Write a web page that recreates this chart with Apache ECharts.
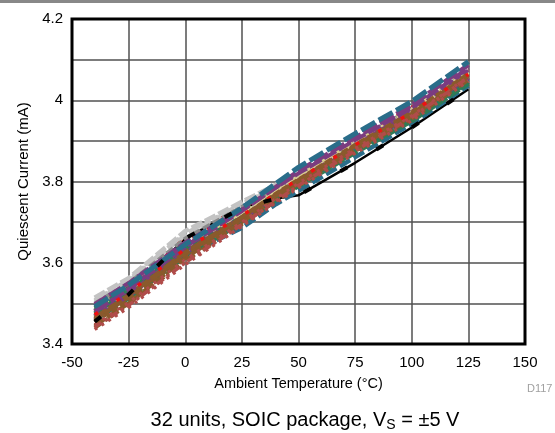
<!DOCTYPE html>
<html><head><meta charset="utf-8">
<script src="https://cdn.jsdelivr.net/npm/echarts@6/dist/echarts.min.js"></script>
<style>html,body{margin:0;padding:0;background:#fff}#c{width:555px;height:433px}</style>
</head><body><div id="c"></div>
<script>
const temps = [-40, -25, 0, 25, 40, 50, 75, 100, 125];
const xTicks = [-50, -25, 0, 25, 50, 75, 100, 125, 150];
const yTicks = [3.4, 3.6, 3.8, 4.0, 4.2];

const u01 = [3.455, 3.522, 3.660, 3.735, 3.758, 3.766, 3.846, 3.933, 4.027];
const u02 = [3.492, 3.545, 3.645, 3.735, 3.795, 3.835, 3.918, 3.997, 4.095];
const u03 = [3.468, 3.522, 3.618, 3.686, 3.744, 3.777, 3.860, 3.942, 4.036];
const u04 = [3.480, 3.535, 3.640, 3.728, 3.786, 3.826, 3.908, 3.988, 4.087];
const u05 = [3.462, 3.518, 3.625, 3.707, 3.765, 3.800, 3.884, 3.962, 4.055];
const u06 = [3.445, 3.500, 3.612, 3.700, 3.760, 3.795, 3.880, 3.960, 4.058];
const u07 = [3.455, 3.508, 3.620, 3.712, 3.770, 3.805, 3.890, 3.970, 4.065];
const u08 = [3.440, 3.498, 3.605, 3.695, 3.752, 3.790, 3.875, 3.955, 4.050];
const u09 = [3.475, 3.530, 3.628, 3.705, 3.758, 3.792, 3.872, 3.950, 4.042];
const u10 = [3.488, 3.538, 3.635, 3.712, 3.765, 3.798, 3.878, 3.955, 4.046];
const u11 = [3.514, 3.562, 3.678, 3.750, 3.792, 3.820, 3.895, 3.968, 4.060];
const u12 = [3.505, 3.555, 3.668, 3.742, 3.785, 3.814, 3.890, 3.962, 4.052];
const u13 = [3.470, 3.525, 3.630, 3.718, 3.772, 3.808, 3.895, 3.975, 4.070];
const u14 = [3.478, 3.530, 3.637, 3.722, 3.777, 3.812, 3.898, 3.978, 4.062];
const u15 = [3.436, 3.490, 3.596, 3.690, 3.748, 3.785, 3.870, 3.950, 4.048];
const u16 = [3.442, 3.495, 3.600, 3.694, 3.752, 3.790, 3.876, 3.958, 4.056];
const u17 = [3.466, 3.520, 3.668, 3.735, 3.785, 3.818, 3.898, 3.975, 4.066];
const u18 = [3.495, 3.548, 3.652, 3.728, 3.782, 3.815, 3.902, 3.982, 4.075];
const u19 = [3.500, 3.550, 3.660, 3.738, 3.787, 3.820, 3.900, 3.980, 4.072];
const u20 = [3.482, 3.535, 3.632, 3.715, 3.770, 3.804, 3.888, 3.968, 4.062];
const u21 = [3.498, 3.550, 3.650, 3.730, 3.785, 3.820, 3.902, 3.980, 4.080];
const u22 = [3.460, 3.515, 3.622, 3.708, 3.765, 3.800, 3.885, 3.965, 4.060];
const u23 = [3.458, 3.512, 3.615, 3.698, 3.754, 3.788, 3.870, 3.948, 4.040];
const u24 = [3.508, 3.558, 3.672, 3.745, 3.786, 3.815, 3.888, 3.960, 4.048];
const u25 = [3.485, 3.538, 3.640, 3.720, 3.774, 3.808, 3.892, 3.972, 4.066];
const u26 = [3.472, 3.526, 3.634, 3.716, 3.770, 3.806, 3.890, 3.970, 4.064];
const u27 = [3.448, 3.502, 3.608, 3.700, 3.758, 3.796, 3.882, 3.962, 4.058];
const u28 = [3.465, 3.520, 3.626, 3.712, 3.768, 3.803, 3.887, 3.967, 4.062];
const u29 = [3.490, 3.540, 3.645, 3.724, 3.778, 3.812, 3.894, 3.972, 4.070];
const u30 = [3.475, 3.528, 3.630, 3.710, 3.766, 3.800, 3.882, 3.960, 4.052];
const u31 = [3.470, 3.524, 3.628, 3.713, 3.769, 3.804, 3.890, 3.972, 4.074];
const u32 = [3.483, 3.532, 3.632, 3.708, 3.762, 3.796, 3.876, 3.953, 4.044];

const C = {
  teal: '#2a6d8a', purple: '#7b3c80', brown: '#8a5a2c', green: '#2f7b57',
  gray: '#c3c3c3', tan: '#d9cd8f', dred: '#b04c4a', red: '#ee1111',
  dgray: '#8a8a8a', black: '#000000'
};
// draw order: first drawn at bottom
const units = [
  [u01, C.black, 2.5, 'solid'],
  [u17, C.red, 3.5, [6, 10]], [u18, C.red, 3.5, [5, 12]],
  [u12, C.gray, 4, [10, 3]], [u24, C.gray, 4, [6, 3]], [u11, C.gray, 4.5, [12, 3]],
  [u19, C.dgray, 3.5, [8, 3]], [u29, C.dgray, 3.5, [4, 3]],
  [u03, C.teal, 4.5, [12, 4]], [u20, C.teal, 4, [8, 3]], [u30, C.teal, 4, [10, 3, 3, 3]],
  [u13, C.tan, 4, [10, 3]], [u14, C.tan, 4, [5, 3]], [u25, C.tan, 3.5, [12, 3, 3, 3]],
  [u09, C.green, 4, [10, 3]], [u10, C.green, 4, [6, 3]], [u23, C.green, 4, [12, 3]], [u32, C.green, 3.5, [8, 3, 3, 3]],
  [u05, C.purple, 4, [10, 3]], [u21, C.purple, 4, [14, 3]], [u31, C.purple, 3.5, [6, 3]],
  [u06, C.brown, 4, [12, 3]], [u07, C.brown, 4, [7, 3]], [u08, C.brown, 4, [10, 3, 3, 3]],
  [u22, C.brown, 4, [9, 3]], [u28, C.brown, 4, [14, 3]],
  [u04, C.purple, 4.5, [16, 3]],
  [u02, C.teal, 5, [16, 4]],
  [u15, C.dred, 3.5, [3, 5]], [u16, C.dred, 3.5, [8, 4, 3, 4]], [u27, C.dred, 3, [3, 6]],
  [u26, C.red, 3.5, [4, 22]],
  [u01, C.black, 4, [8, 34]]
];

const series = units.map((u, i) => ({
  type: 'line', name: 'unit' + (i + 1), symbol: 'none', smooth: false,
  data: temps.map((t, j) => [t, u[0][j]]),
  lineStyle: { color: u[1], width: u[2], type: u[3], cap: 'butt' },
  z: 2, silent: true
}));

const font = '"Liberation Sans", Arial, sans-serif';
const chart = echarts.init(document.getElementById('c'), null, { renderer: 'canvas' });
chart.setOption({
  animation: false,
  backgroundColor: '#fff',
  grid: { left: 72, right: 30, top: 19, bottom: 89, show: true, borderColor: '#000', borderWidth: 3, backgroundColor: 'transparent', z: 3 },
  xAxis: {
    type: 'value', min: xTicks[0], max: xTicks[xTicks.length - 1], interval: 25,
    name: 'Ambient Temperature (°C)', nameLocation: 'middle', nameGap: 32,
    nameTextStyle: { fontFamily: font, fontSize: 14.5, color: '#000' },
    axisLine: { show: false }, axisTick: { show: false },
    axisLabel: { fontFamily: font, fontSize: 15, color: '#000', margin: 11, formatter: v => String(v) },
    splitLine: { show: true, lineStyle: { color: '#505050', width: 1.5 } }
  },
  yAxis: {
    type: 'value', min: yTicks[0], max: yTicks[yTicks.length - 1], interval: 0.1,
    name: 'Quiescent Current (mA)', nameLocation: 'middle', nameGap: 40,
    nameTextStyle: { fontFamily: font, fontSize: 15, color: '#000' },
    axisLine: { show: false }, axisTick: { show: false },
    axisLabel: {
      fontFamily: font, fontSize: 15, color: '#000', margin: 9,
      formatter: v => {
        const r = Math.round(v * 10) / 10;
        return yTicks.some(t => Math.abs(t - r) < 1e-6) ? String(r) : '';
      }
    },
    splitLine: { show: true, lineStyle: { color: '#505050', width: 1.5 } }
  },
  graphic: [
    { type: 'rect', shape: { x: 0, y: 0, width: 555, height: 3 }, style: { fill: '#888' } },
    { type: 'text', x: 527, y: 383, style: { text: 'D117', fontFamily: font, fontSize: 11, fill: '#a0a0a0' } },
    {
      type: 'text', x: 305, y: 420,
      style: {
        text: '32 units, SOIC package, V{s|S} = ±5 V',
        rich: { s: { fontFamily: font, fontSize: 14, verticalAlign: 'bottom', padding: [10, 0, 0, 0], fill: '#000' } },
        fontFamily: font, fontSize: 20, fill: '#000', align: 'center', verticalAlign: 'middle'
      }
    }
  ],
  series: series
});
</script></body></html>
